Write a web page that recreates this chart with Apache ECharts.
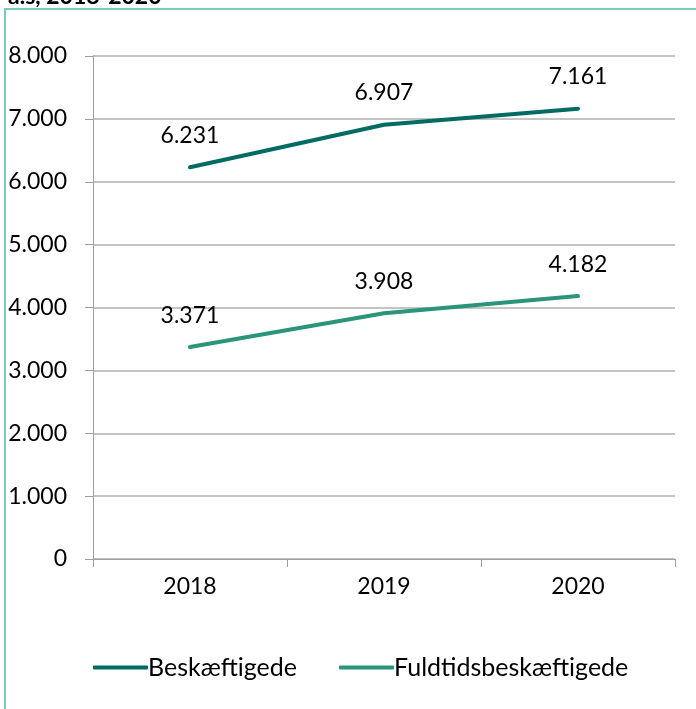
<!DOCTYPE html>
<html>
<head>
<meta charset="utf-8">
<script src="https://cdn.jsdelivr.net/npm/echarts@6/dist/echarts.min.js"></script>
<style>
  html, body { margin: 0; padding: 0; background: #fff; }
  #chart { width: 696px; height: 709px; }
</style>
</head>
<body>
<div id="chart"></div>
<script>
// data
const years = ['2018', '2019', '2020']
const beskaeftigede = [6231, 6907, 7161]
const fuldtids = [3371, 3908, 4182]
const yTicks = [0, 1000, 2000, 3000, 4000, 5000, 6000, 7000, 8000]

const font = 'Lato, "Open Sans", sans-serif'
const fs = 23
// dansk tusindtalsseparator
const fmt = v => String(v).replace(/\B(?=(\d{3})+(?!\d))/g, '.')

const myChart = echarts.init(document.getElementById('chart'))
myChart.setOption({
  animation: false,
  textStyle: { fontFamily: font },
  graphic: [{
    type: 'rect',
    shape: { x: 5, y: 9, width: 720, height: 720 },
    style: { fill: 'none', stroke: '#72d0ba', lineWidth: 2 },
    z: -1
  }, {
    type: 'text',
    left: 8,
    top: -15,
    style: { text: 'a.s, 2018-2020', font: 'bold 23px ' + font, fill: '#000' }
  }],
  grid: { left: 93, right: 21, top: 56, bottom: 150 },
  legend: {
    bottom: 24,
    left: 88,
    itemWidth: 55,
    itemHeight: 4,
    itemGap: 42,
    icon: 'roundRect',
    textStyle: { fontSize: 25, color: '#000', fontFamily: font, padding: [0, 0, 0, -5] },
    data: ['Beskæftigede', 'Fuldtidsbeskæftigede']
  },
  xAxis: {
    type: 'category',
    data: years,
    boundaryGap: true,
    axisLine: { lineStyle: { color: '#9e9e9e', width: 1 } },
    axisTick: { show: true, length: 8, lineStyle: { color: '#9e9e9e' } },
    axisLabel: { fontSize: fs, color: '#000', margin: 16 }
  },
  yAxis: {
    type: 'value',
    min: 0,
    max: yTicks[yTicks.length - 1],
    interval: 1000,
    axisLine: { show: true, lineStyle: { color: '#9e9e9e' } },
    axisTick: { show: true, length: 8, lineStyle: { color: '#9e9e9e' } },
    splitLine: { lineStyle: { color: '#b0b0b0', width: 1.5 } },
    axisLabel: { fontSize: fs, color: '#000', margin: 26, formatter: v => fmt(v) }
  },
  series: [{
    name: 'Beskæftigede',
    type: 'line',
    data: beskaeftigede,
    symbol: 'circle',
    symbolSize: 0.5,
    showSymbol: true,
    color: '#006b62',
    itemStyle: { color: '#006b62' },
    lineStyle: { width: 4, color: '#006b62', cap: 'round' },
    label: { show: true, position: 'top', distance: 20, fontSize: fs, color: '#000', formatter: p => fmt(p.value) }
  }, {
    name: 'Fuldtidsbeskæftigede',
    type: 'line',
    data: fuldtids,
    symbol: 'circle',
    symbolSize: 0.5,
    showSymbol: true,
    color: '#2a957b',
    itemStyle: { color: '#2a957b' },
    lineStyle: { width: 4, color: '#2a957b', cap: 'round' },
    label: { show: true, position: 'top', distance: 20, fontSize: fs, color: '#000', formatter: p => fmt(p.value) }
  }]
})
</script>
</body>
</html>
